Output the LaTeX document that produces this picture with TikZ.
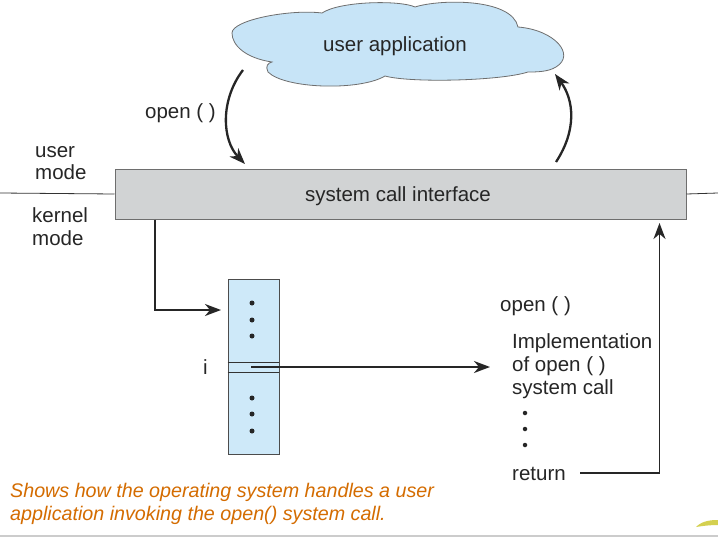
\documentclass[tikz,border=0pt]{standalone}
\usepackage{fontspec}
\setmainfont{Liberation Sans}
\usetikzlibrary{arrows.meta}
\definecolor{cloudblue}{RGB}{199,228,247}
\definecolor{tableblue}{RGB}{206,233,249}
\definecolor{boxgray}{RGB}{209,211,212}
\definecolor{edgegray}{RGB}{110,110,110}
\definecolor{capor}{RGB}{212,108,0}
\definecolor{blob}{RGB}{212,208,80}
\begin{document}
\begin{tikzpicture}[x=1pt,y=-1pt,
  lbl/.style={inner sep=0pt,anchor=west,font=\fontsize{20.5}{23}\selectfont,text height=17pt,text depth=3pt,text=black!85},
  captext/.style={inner sep=0pt,anchor=west,font=\fontsize{19.7}{23}\selectfont\itshape,text height=17pt,text depth=3pt,text=capor},
  arr/.style={line width=1.8pt,draw=black!85,-{Stealth[length=16pt,width=12pt,inset=5pt]}},
  cur/.style={line width=2.3pt,draw=black!85,-{Stealth[length=16pt,width=12pt,inset=5pt]}},
  thinline/.style={line width=0.8pt,draw=black!80},
  dotmark/.style={circle,fill=black!85,inner sep=0pt,minimum size=5pt}]
\useasboundingbox (0,0) rectangle (718,538);
\fill[white] (0,0) rectangle (718,538);
% cloud
\draw[draw=edgegray,line width=0.8pt,fill=cloudblue]
  (272,62) .. controls (245,58) and (232,45) .. (232,33)
  .. controls (232,20) and (290,9) .. (322,13)
  .. controls (340,1) and (400,0) .. (415,7)
  .. controls (440,-1) and (512,-2) .. (518,27)
  .. controls (555,30) and (576,55) .. (556,67)
  .. controls (548,72) and (536,72) .. (528,72)
  .. controls (500,81) and (410,83) .. (385,76)
  .. controls (360,91) and (285,89) .. (268,72)
  .. controls (265,66) and (268,63) .. (272,62) -- cycle;
\node[lbl,anchor=center] (app) at (395,44) {user application};
% mode line
\coordinate (ml) at (0,193);
\coordinate (mr) at (718,193);
% system call interface box
\node[draw=edgegray,line width=1pt,fill=boxgray,minimum width=571pt,minimum height=50pt,inner sep=0pt] (sci) at (400.5,194) {};
\node[lbl,anchor=center] (scitext) at (398,194) {system call interface};
\draw[thinline] (ml) -- (sci.west);
\draw[thinline] (sci.east) -- (mr);
% mode labels
\node[lbl] (u1) at (35,150) {user};
\node[lbl] (u2) at (35,172) {mode};
\node[lbl] (k1) at (32,215) {kernel};
\node[lbl] (k2) at (32,238) {mode};
% curved arrows
\node[lbl] (openl) at (145,111) {open ( )};
\coordinate (cs) at (243,70);
\coordinate (ce) at (245,164);
\draw[cur] (cs) .. controls (220,100) and (222,140) .. (ce);
\coordinate (rs) at (556,162);
\coordinate (re) at (555,74);
\draw[cur] (rs) .. controls (577,130) and (574,100) .. (re);
% table
\node[draw=black!70,line width=0.8pt,fill=tableblue,minimum width=51pt,minimum height=175pt,inner sep=0pt,anchor=north west] (tbl) at (227.5,279) {};
\draw[thinline] (227.5,362) -- (278.5,362);
\draw[thinline] (227.5,372) -- (278.5,372);
\foreach \y [count=\n] in {303,320,336,398,414,431}
  \node[dotmark] (td\n) at (252,\y) {};
\node[lbl] (ilabel) at (203,367) {i};
% arrow from interface to table
\coordinate (sciout) at (155,219.5);
\coordinate (corner) at (155,310);
\coordinate (tin) at (221,310);
\draw[arr] (sciout) -- (corner) -- (tin);
% open implementation
\coordinate (irow) at (251,367);
\coordinate (impin) at (490,367);
\draw[arr] (irow) -- (impin);
\node[lbl] (openr) at (500,304) {open ( )};
\node[lbl] (imp1) at (512,341) {Implementation};
\node[lbl] (imp2) at (512,364) {of open ( )};
\node[lbl] (imp3) at (512,387) {system call};
\foreach \y [count=\n] in {413,429,445}
  \node[dotmark,minimum size=4.5pt] (id\n) at (525,\y) {};
\node[lbl] (ret) at (512,473) {return};
\coordinate (rets) at (580,473);
\coordinate (retc) at (659.5,473);
\coordinate (rete) at (659.5,223);
\draw[arr] (rets) -- (retc) -- (rete);
% caption
\node[captext] (c1) at (10,490) {Shows how the operating system handles a user};
\node[captext] (c2) at (10,513) {application invoking the open() system call.};
% slide bottom
\draw[line width=1.5pt,draw=black!20] (0,536) -- (718,536);
\fill[blob] (696,527) .. controls (702,521) and (710,520) .. (718,520) -- (718,525) .. controls (710,525) and (702,526) .. cycle;
\end{tikzpicture}
\end{document}
